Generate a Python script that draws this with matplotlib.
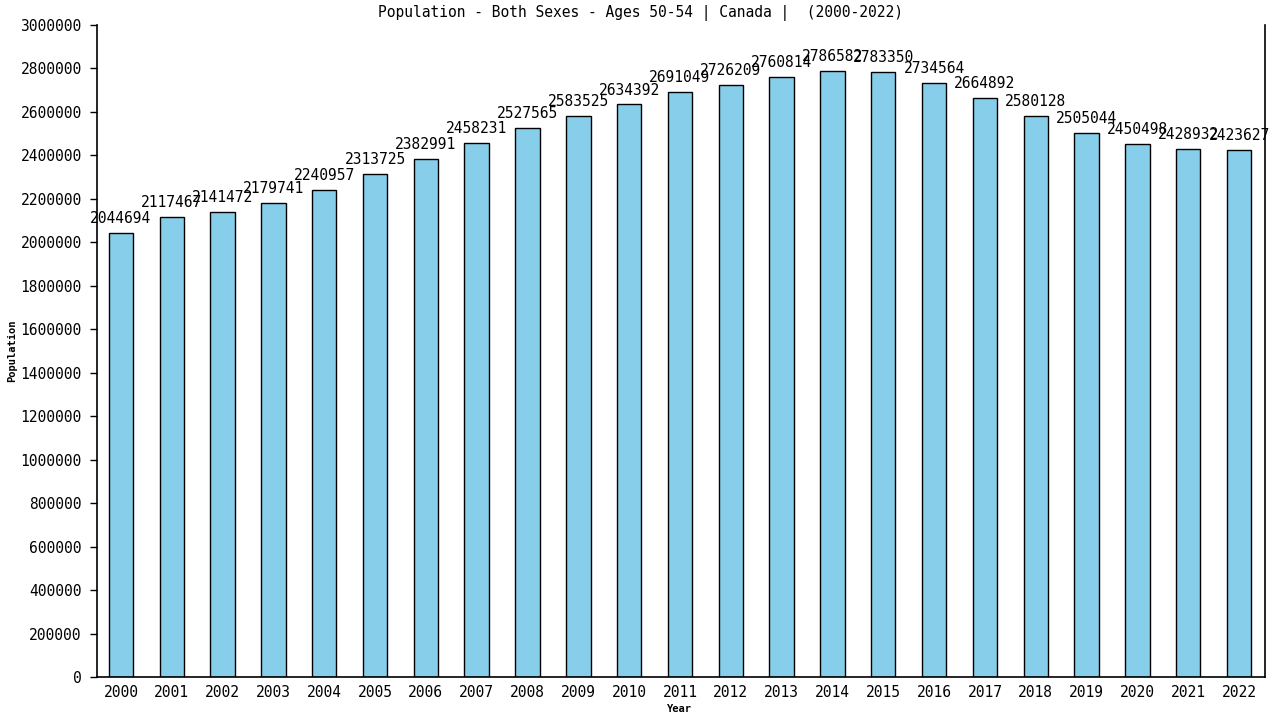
import matplotlib
matplotlib.use("Agg")
import matplotlib.pyplot as plt
import numpy as np

years = list(range(2000, 2023))
population = [2044694, 2117467, 2141472, 2179741, 2240957, 2313725, 2382991,
              2458231, 2527565, 2583525, 2634392, 2691049, 2726209, 2760814,
              2786582, 2783350, 2734564, 2664892, 2580128, 2505044, 2450498,
              2428932, 2423627]
y_ticks = list(range(0, 3000001, 200000))

mono = "DejaVu Sans Mono"

fig = plt.figure(figsize=(12.8, 7.2), dpi=100)
ax = fig.add_axes([97 / 1280, 43 / 720, 1168 / 1280, 652 / 720])

x = np.arange(len(years))
ax.bar(x, population, width=0.48, color="#87ceeb", edgecolor="black", linewidth=1)

for xi, v in zip(x, population):
    ax.annotate(str(v), (xi, v), xytext=(0, 5), textcoords="offset points",
                ha="center", va="bottom", fontsize=10.5, family=mono)

ax.set_xlim(-0.47, 22.51)
ax.set_ylim(0, 3000000)
ax.set_xticks(x)
ax.set_xticklabels([str(y) for y in years], family=mono, fontsize=10.5)
ax.set_yticks(y_ticks)
ax.set_yticklabels([str(t) for t in y_ticks], family=mono, fontsize=10.5)
ax.tick_params(axis="x", length=0, pad=6)
ax.tick_params(axis="y", length=5, width=1, pad=6)

ax.spines["top"].set_visible(False)
for s in ["left", "right", "bottom"]:
    ax.spines[s].set_linewidth(1.2)

fig.text(0.5, 1 - 13 / 720, "Population - Both Sexes - Ages 50-54 | Canada |  (2000-2022)",
         ha="center", va="center", family=mono, fontsize=10.5)
fig.text(12 / 1280, 350 / 720 * 0 + 1 - 351 / 720, "Population", rotation=90,
         ha="center", va="center", family=mono, fontsize=7.5, fontweight="bold")
fig.text(679 / 1280, 1 - 709 / 720, "Year", ha="center", va="center",
         family=mono, fontsize=7.5, fontweight="bold")

fig.savefig("out.png", dpi=100)
